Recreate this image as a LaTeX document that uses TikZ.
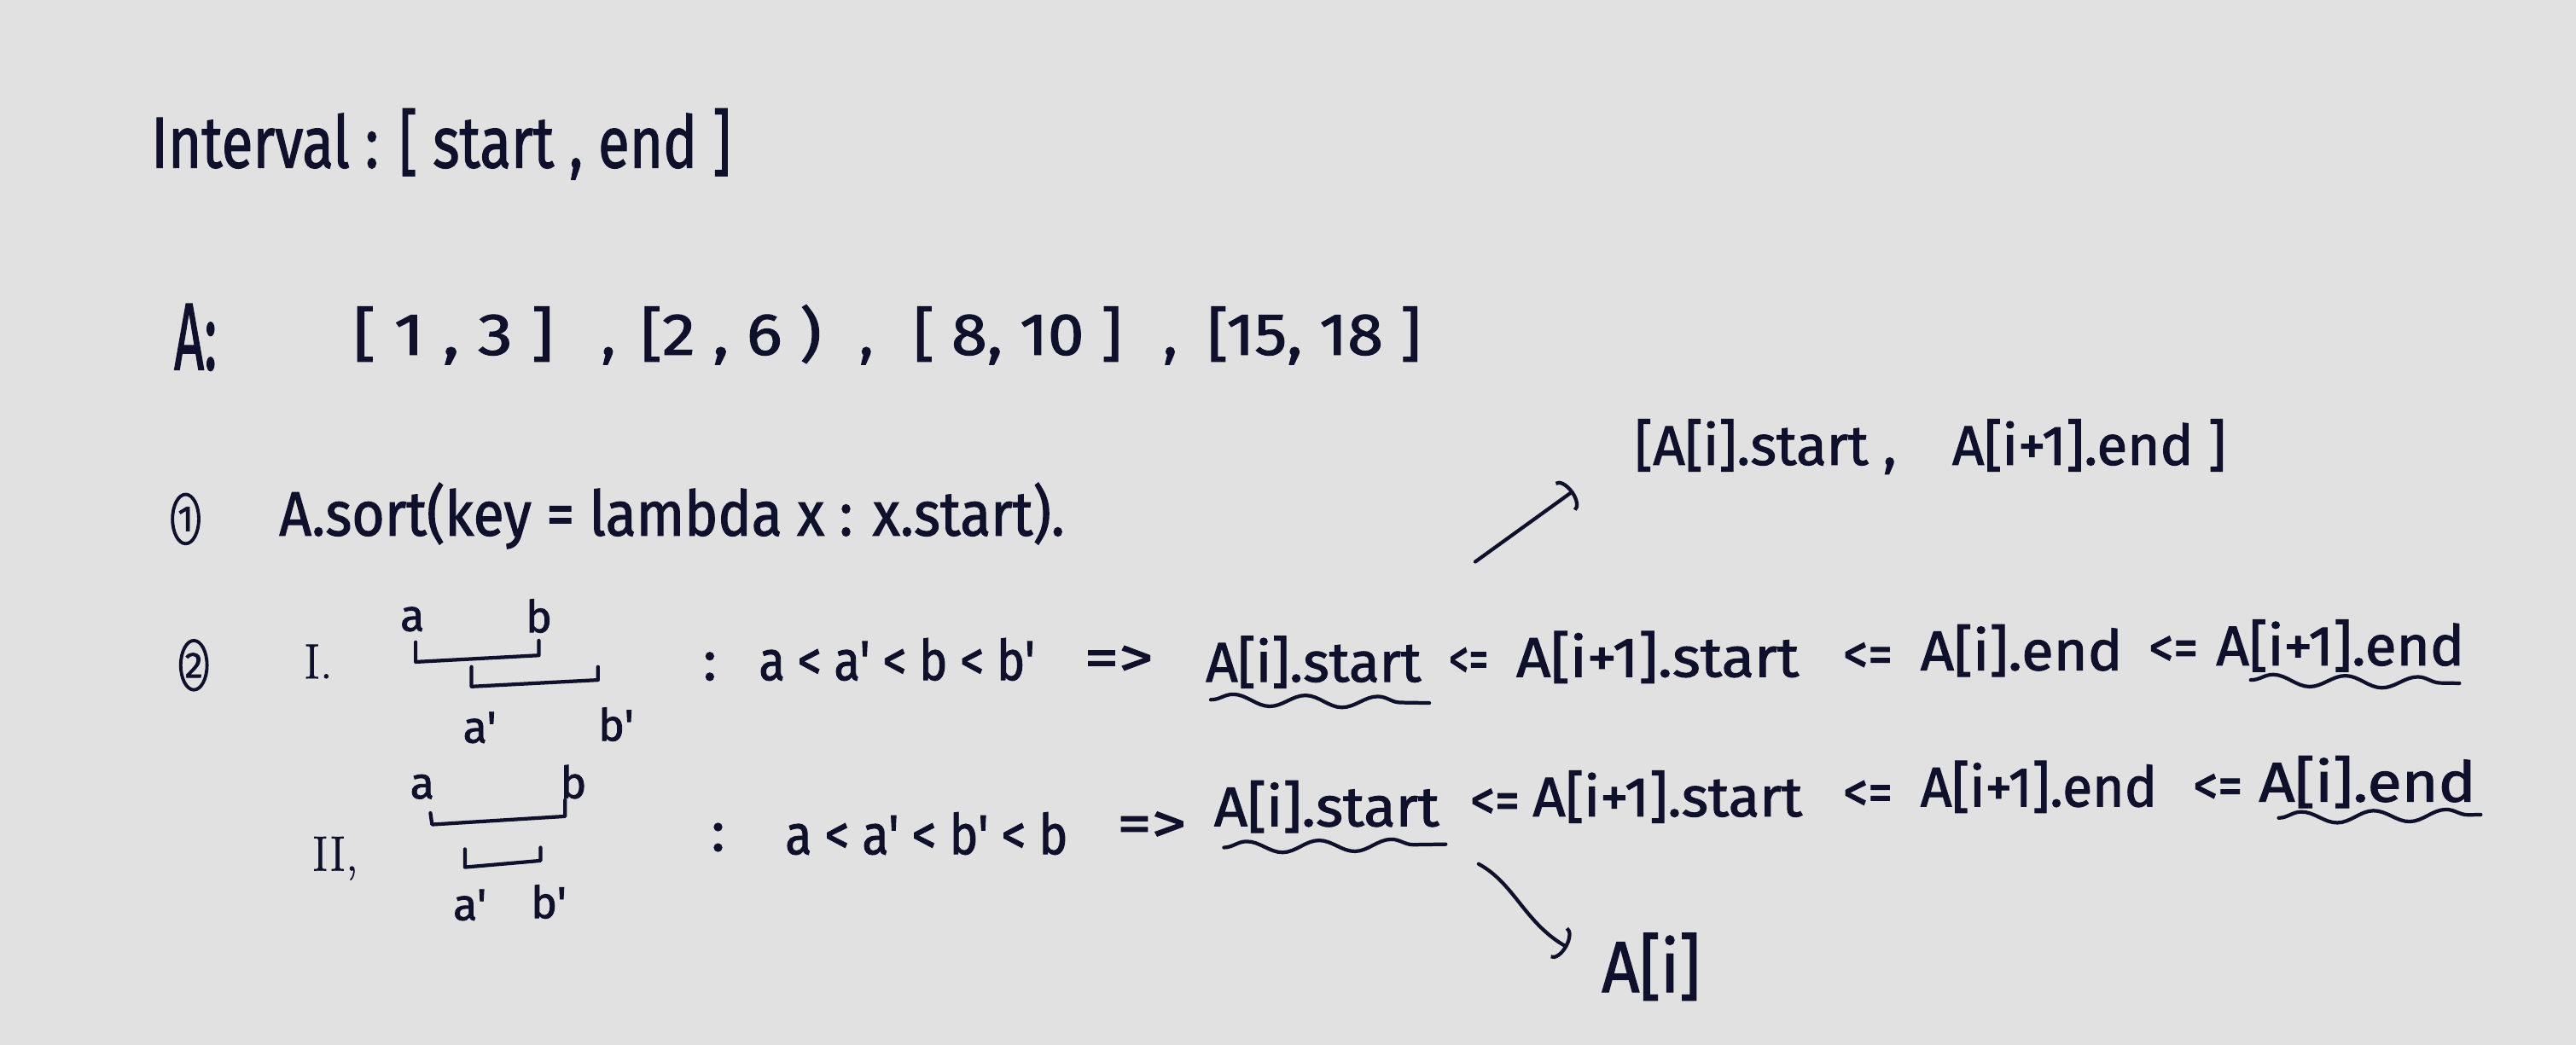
\documentclass[tikz,border=0pt]{standalone}
\usepackage{fontspec}
\usepackage{graphicx}
\newfontfamily\hand[FakeBold=1.6]{Fira Sans}
\newfontfamily\romhand[FakeBold=1.2]{Latin Modern Roman}
\usetikzlibrary{arrows.meta,decorations.pathmorphing,shapes.geometric}
\definecolor{ink}{RGB}{14,16,44}
\definecolor{paper}{RGB}{225,225,225}
\newcommand\fw[2]{\resizebox{#1pt}{\height}{#2}}
\begin{document}
\begin{tikzpicture}[x=1pt,y=-1pt,
  txt/.style={inner sep=0pt, outer sep=0pt, anchor=base west, text=ink, font=\hand\fontsize{#1}{#1}\selectfont},
  rom/.style={inner sep=0pt, outer sep=0pt, anchor=base west, text=ink, font=\romhand\fontsize{#1}{#1}\selectfont},
  lbl/.style={inner sep=0pt, text=ink, font=\hand\fontsize{27}{27}\selectfont},
  pen/.style={draw=ink, line width=2.2pt, line cap=round, line join=round},
  wavy/.style={pen, decorate, decoration={snake, segment length=44pt, amplitude=3.5pt}},
  circnum/.style={ellipse, draw=ink, line width=2pt, minimum width=16pt, minimum height=30pt, inner sep=0pt, text=ink, font=\hand\fontsize{22}{22}\selectfont},
  hook/.style={pen, -{Arc Barb[length=6pt, width=22pt]}}
]
\fill[paper] (0,0) rectangle (1568,636);
\useasboundingbox (0,0) rectangle (1568,636);

% title
\node[txt=44] (title) at (92,102) {\fw{353}{Interval : [ start , end ]}};

% array A
\node[txt=58] (Alab) at (106,225) {\fw{26}{A:}};
\node[txt=36] (iv1) at (215,216) {\fw{122}{[ 1 , 3 ]}};
\node[txt=36] (cm1) at (366,216) {,};
\node[txt=36] (iv2) at (390,216) {\fw{110}{[2 , 6 )}};
\node[txt=36] (cm2) at (523,216) {,};
\node[txt=36] (iv3) at (556,216) {\fw{127}{[ 8, 10 ]}};
\node[txt=36] (cm3) at (708,216) {,};
\node[txt=36] (iv4) at (735,216) {\fw{130}{[15, 18 ]}};

% step 1
\node[circnum] (n1) at (113,316) {1};
\node[txt=38] (sort) at (170,326) {\fw{478}{A.sort(key = lambda x : x.start).}};

% merged interval note
\node[txt=34] (top) at (995,283) {\fw{360}{[A[i].start ,\quad A[i+1].end ]}};
\coordinate (p1) at (898,342);
\draw[hook, shorten >=46pt] (p1) -- (top.west);

% step 2, case I
\node[circnum] (n2) at (118,405) {2};
\node[rom=30] (r1) at (185,413) {I.};
\draw[pen] (253,391) -- (253,403) -- (328,399) -- (328,390);
\draw[pen] (287,406) -- (287,418) -- (364,414) -- (364,406);
\node[lbl] (la1) at (251,377) {a};
\node[lbl] (lb1) at (328,375) {b};
\node[lbl] (lc1) at (292,443) {a'};
\node[lbl] (ld1) at (375,441) {b'};
\node[txt=34] (col1) at (428,414) {:};
\node[txt=34] (cond1) at (462,414) {\fw{168}{a < a' < b < b'}};
\node[txt=34] (imp1) at (660,412) {\fw{42}{=>}};
\node[txt=34] (s1a) at (734,415) {\fw{131}{A[i].start}};
\node[txt=34] (le1a) at (882,413) {\fw{24}{<=}};
\node[txt=34] (s1b) at (923,412) {\fw{172}{A[i+1].start}};
\node[txt=34] (le1b) at (1122,410) {\fw{30}{<=}};
\node[txt=34] (s1c) at (1169,408) {\fw{123}{A[i].end}};
\node[txt=34] (le1c) at (1308,406) {\fw{30}{<=}};
\node[txt=34] (s1d) at (1349,405) {\fw{151}{A[i+1].end}};
\draw[wavy] (737,426) -- (870,428);
\draw[wavy] (1370,414) -- (1497,416);

% step 2, case II
\node[rom=30] (r2) at (190,530) {II,};
\draw[pen] (262,495) -- (263,502) -- (344,497) -- (344,487);
\draw[pen] (283,517) -- (283,528) -- (329,524) -- (329,516);
\node[lbl] (la2) at (257,479) {a};
\node[lbl] (lb2) at (349,476) {b};
\node[lbl] (lc2) at (286,551) {a'};
\node[lbl] (ld2) at (334,549) {b'};
\node[txt=34] (col2) at (433,518) {:};
\node[txt=34] (cond2) at (478,520) {\fw{172}{a < a' < b' < b}};
\node[txt=34] (imp2) at (680,513) {\fw{42}{=>}};
\node[txt=34] (s2a) at (739,503) {\fw{137}{A[i].start}};
\node[txt=34] (le2a) at (895,499) {\fw{30}{<=}};
\node[txt=34] (s2b) at (933,497) {\fw{164}{A[i+1].start}};
\node[txt=34] (le2b) at (1122,494) {\fw{30}{<=}};
\node[txt=34] (s2c) at (1169,491) {\fw{144}{A[i+1].end}};
\node[txt=34] (le2c) at (1335,490) {\fw{30}{<=}};
\node[txt=34] (s2d) at (1375,488) {\fw{132}{A[i].end}};
\draw[wavy] (745,516) -- (880,514);
\draw[wavy] (1387,498) -- (1510,496);

% result arrow
\node[txt=44] (ai) at (975,604) {\fw{60}{A[i]}};
\coordinate (p3) at (900,526);
\draw[hook, shorten >=24pt] (p3) .. controls (922,538) and (928,562) .. (ai.west);
\end{tikzpicture}
\end{document}
